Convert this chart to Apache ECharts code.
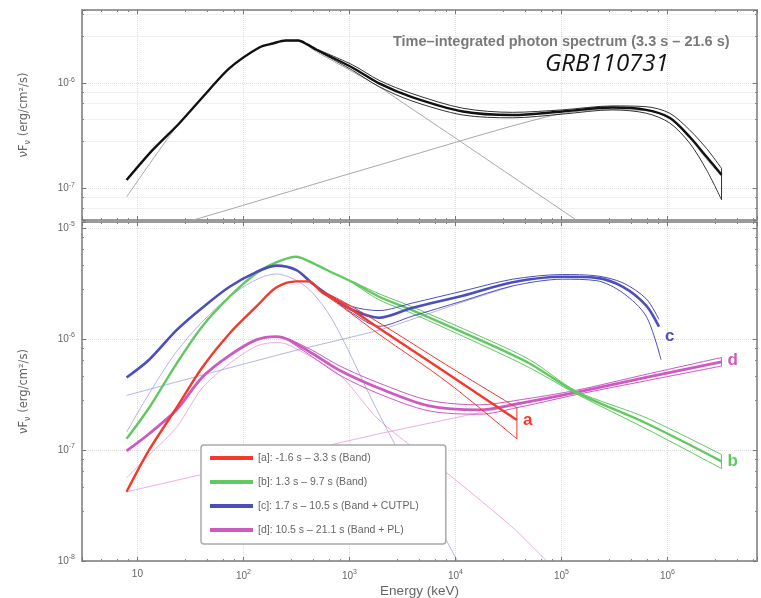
<!DOCTYPE html>
<html>
<head>
<meta charset="utf-8">
<script src="https://cdn.jsdelivr.net/npm/echarts@6/dist/echarts.min.js"></script>
<style>
html,body{margin:0;padding:0;background:#fff;}
#chart{width:761px;height:598px;}
</style>
</head>
<body>
<div id="chart"></div>
<script>
// ---------- DATA (energy keV, nuFnu erg/cm2/s) ----------
const blackCenter = [[7.9,1.2e-7],[13.8,2.3e-7],[25,4.2e-7],[44.7,8.1e-7],[74,1.4e-6],[141,2.2e-6],[190,2.4e-6],[250,2.56e-6],[330,2.56e-6],[400,2.35e-6],[490,2.09e-6],[1072,1.41e-6],[1905,1.0e-6],[3890,7.4e-7],[11750,5.4e-7],[34670,5.0e-7],[102300,5.4e-7],[302000,5.9e-7],[631000,5.6e-7],[1.05e6,4.7e-7],[1.62e6,3.1e-7],[2.34e6,2.0e-7],[3.24e6,1.35e-7]];
const blackUpper = [[490,2.12e-6],[1072,1.5e-6],[1905,1.07e-6],[3890,8.0e-7],[11750,5.8e-7],[34670,5.3e-7],[102300,5.6e-7],[302000,6.1e-7],[631000,6.0e-7],[1.05e6,5.2e-7],[1.62e6,3.6e-7],[2.34e6,2.4e-7],[3.24e6,1.55e-7]];
const blackLower = [[490,2.06e-6],[1072,1.33e-6],[1905,9.3e-7],[3890,6.8e-7],[11750,5.0e-7],[34670,4.7e-7],[102300,5.1e-7],[302000,5.6e-7],[631000,5.2e-7],[1.05e6,4.2e-7],[1.62e6,2.7e-7],[2.34e6,1.5e-7],[3.24e6,7.8e-8]];
const topBandComp = [[7.9,8.3e-8],[16,2.3e-7],[25,4.2e-7],[44.7,8.1e-7],[74,1.4e-6],[141,2.2e-6],[190,2.4e-6],[250,2.54e-6],[330,2.52e-6],[400,2.3e-6],[490,2.0e-6],[1072,1.29e-6],[1905,9.3e-7],[2950,6.9e-7],[11750,2.7e-7],[138000,5.0e-8],[355000,2.6e-8]];
const topCplComp = [[7.9,3.3e-8],[38.5,5.2e-8],[1905,1.67e-7],[72400,4.8e-7],[229000,5.6e-7],[631000,5.5e-7],[1.05e6,4.6e-7],[1.62e6,3.0e-7],[2.34e6,1.9e-7],[3.24e6,1.3e-7]];

const redCenter = [[7.9,4.2e-8],[12.9,1.0e-7],[23.4,2.4e-7],[40.7,5.5e-7],[74,1.12e-6],[132,1.95e-6],[204,2.9e-6],[316,3.3e-6],[417,3.3e-6],[550,2.63e-6],[851,2.09e-6],[1905,1.25e-6],[8318,4.9e-7],[38000,1.86e-7]];
const redUpper = [[550,2.7e-6],[851,2.2e-6],[1905,1.4e-6],[8318,5.8e-7],[38000,2.4e-7]];
const redLower = [[550,2.6e-6],[851,1.95e-6],[1905,1.1e-6],[8318,4.1e-7],[38000,1.26e-7]];

const greenCenter = [[7.9,1.26e-7],[12.9,2.4e-7],[23.4,6.0e-7],[40.7,1.29e-6],[74,2.4e-6],[132,3.9e-6],[204,4.9e-6],[316,5.5e-6],[417,5.0e-6],[603,4.2e-6],[1072,3.24e-6],[1905,2.4e-6],[3890,1.82e-6],[17000,9.8e-7],[50100,6.0e-7],[138000,3.3e-7],[631000,1.74e-7],[3.24e6,7.9e-8]];
const greenUpper = [[1072,3.3e-6],[1905,2.55e-6],[3890,1.95e-6],[17000,1.06e-6],[50100,6.5e-7],[138000,3.4e-7],[631000,1.95e-7],[3.24e6,9.1e-8]];
const greenLower = [[1072,3.2e-6],[1905,2.25e-6],[3890,1.7e-6],[17000,9.0e-7],[50100,5.5e-7],[138000,3.2e-7],[631000,1.55e-7],[3.24e6,6.8e-8]];

const blueCenter = [[7.9,4.5e-7],[12.9,6.5e-7],[23.4,1.2e-6],[40.7,1.9e-6],[74,2.95e-6],[132,4.0e-6],[204,4.57e-6],[316,4.17e-6],[447,3.16e-6],[692,2.34e-6],[1072,1.82e-6],[1905,1.55e-6],[3890,1.9e-6],[11750,2.45e-6],[34670,3.24e-6],[102300,3.63e-6],[213800,3.55e-6],[380000,2.95e-6],[631000,2.0e-6],[832000,1.29e-6]];
const blueUpper = [[692,2.4e-6],[1072,1.95e-6],[1905,1.8e-6],[3890,2.1e-6],[11750,2.7e-6],[34670,3.45e-6],[102300,3.8e-6],[213800,3.7e-6],[380000,3.2e-6],[631000,2.3e-6],[832000,1.5e-6]];
const blueLower = [[692,2.3e-6],[1072,1.7e-6],[1905,1.3e-6],[3890,1.6e-6],[11750,2.2e-6],[34670,3.0e-6],[102300,3.45e-6],[213800,3.35e-6],[380000,2.6e-6],[631000,1.6e-6],[870000,6.5e-7]];
const blueBandComp = [[7.9,1.45e-7],[23.4,7.7e-7],[74,2.4e-6],[204,3.85e-6],[389,2.95e-6],[692,1.48e-6],[1905,2.1e-7],[10470,1.0e-8],[16000,5e-9]];
const blueCplComp = [[7.9,3.1e-7],[269,7.6e-7],[1905,1.2e-6],[3890,1.5e-6],[11750,2.15e-6],[34670,3.0e-6]];

const magCenter = [[7.9,9.8e-8],[12.9,1.4e-7],[23.4,2.3e-7],[40.7,4.5e-7],[74,7.1e-7],[132,9.8e-7],[204,1.05e-6],[269,9.8e-7],[447,7.4e-7],[813,5.2e-7],[1905,3.6e-7],[5623,2.5e-7],[17000,2.3e-7],[38000,2.6e-7],[138000,3.3e-7],[631000,4.5e-7],[3.24e6,6.2e-7]];
const magUpper = [[269,1.0e-6],[447,7.9e-7],[813,5.7e-7],[1905,4.0e-7],[5623,2.8e-7],[17000,2.55e-7],[38000,2.8e-7],[138000,3.45e-7],[631000,4.8e-7],[3.24e6,6.8e-7]];
const magLower = [[269,9.6e-7],[447,6.9e-7],[813,4.7e-7],[1905,3.2e-7],[5623,2.25e-7],[17000,2.1e-7],[38000,2.4e-7],[138000,3.15e-7],[631000,4.2e-7],[3.24e6,5.7e-7]];
const magBandComp = [[7.9,5.6e-8],[12.9,9e-8],[23.4,1.6e-7],[40.7,3.6e-7],[74,6.0e-7],[132,8.6e-7],[204,9.3e-7],[269,8.8e-7],[813,4.7e-7],[1905,1.86e-7],[8318,6.2e-8],[34670,2.0e-8],[72400,1.0e-8],[120000,6e-9]];
const magPlComp = [[7.9,4.2e-8],[1905,1.4e-7],[3.24e6,6.2e-7]];

const legendLabels = ['[a]: -1.6 s – 3.3 s (Band)','[b]: 1.3 s – 9.7 s (Band)','[c]: 1.7 s – 10.5 s (Band + CUTPL)','[d]: 10.5 s – 21.1 s (Band + PL)'];
const curveLetters = ['a','b','c','d'];
const panelTitle = 'Time–integrated photon spectrum (3.3 s – 21.6 s)';
const grbName = 'GRB110731';
const yName = 'νF{sub|ν} (erg/cm²/s)';

// ---------- STYLE ----------
const COL = {red:'#f4382c', green:'#62c862', blue:'#4b4fb9', mag:'#cc5ac0'};
const X_MIN = 3, X_MAX = 7e6;

function decadeLabel(v){
  const l = Math.log10(v), e = Math.round(l);
  if (Math.abs(l - e) > 1e-6) return '';
  if (e === 1) return '{b|10}';
  return '{b|10}{s|' + e + '}';
}
const richLab = {b:{fontSize:10,color:'#666',fontFamily:'Liberation Sans'}, s:{fontSize:7,color:'#666',fontFamily:'Liberation Sans',padding:[0,0,7,0]}};

function xAx(grid, pos, labels){
  return {
    type:'log', gridIndex:grid, position:pos, min:X_MIN, max:X_MAX, splitNumber:7, logBase:10,
    axisLine:{show:true, onZero:false, lineStyle:{color:'#9a9a9a', width:2}},
    axisTick:{show:true, inside:true, length:4, lineStyle:{color:'#777'}},
    minorTick:{show:true, length:2, lineStyle:{color:'#888'}},
    axisLabel:{show:labels, formatter:decadeLabel, rich:richLab, margin:8},
    splitLine:{show:pos==='bottom', lineStyle:{color:'#dcdcdc', type:'dotted'}},
    name: (labels ? 'Energy (keV)' : ''), nameLocation:'middle', nameGap:23, nameMoveOverlap:false,
    nameTextStyle:{fontSize:13.5, color:'#666', fontFamily:'Liberation Sans', lineHeight:14, verticalAlign:'top'}
  };
}
function yAx(grid, pos, min, max, labels){
  return {
    type:'log', gridIndex:grid, position:pos, min:min, max:max, logBase:10,
    axisLine:{show:true, onZero:false, lineStyle:{color:'#9a9a9a', width:2}},
    axisTick:{show:true, inside:true, length:4, lineStyle:{color:'#777'}},
    minorTick:{show:true, length:2, lineStyle:{color:'#888'}},
    axisLabel:{show:labels, formatter:decadeLabel, rich:richLab, margin:7},
    splitLine:{show:pos==='left', lineStyle:{color:'#dcdcdc', type:'dotted'}},
    minorSplitLine:{show:(pos==='left' && grid===0), lineStyle:{color:'#f1f1f1'}},
    name: labels ? yName : '', nameLocation:'middle', nameGap:50, nameMoveOverlap:false,
    nameTextStyle:{fontSize:11.5, color:'#666', fontFamily:'DejaVu Sans', rich:{sub:{fontSize:8,color:'#666',fontFamily:'DejaVu Sans',padding:[7,0,0,0]}}}
  };
}

function line(name, data, xi, yi, color, width, extra){
  return Object.assign({
    type:'line', name:name, data:data, xAxisIndex:xi, yAxisIndex:yi,
    showSymbol:false, symbol:'none', smooth:0.3, silent:true,
    lineStyle:{color:color, width:width}, itemStyle:{color:color}, clip:true
  }, extra||{});
}
function closeEnd(up, lo){ return [up[up.length-1], lo[lo.length-1]]; }
function endLab(letter, color, off){
  return {endLabel:{show:true, formatter:letter, color:color, fontSize:17, fontWeight:'bold', fontFamily:'Liberation Sans', offset:off, distance:4}};
}

const series = [
  // top panel
  line('topBand', topBandComp, 0, 0, '#a8a8a8', 1),
  line('topCpl', topCplComp, 0, 0, '#a8a8a8', 1),
  line('blkU', blackUpper, 0, 0, '#333', 1),
  line('blkL', blackLower, 0, 0, '#333', 1),
  line('blkE', closeEnd(blackUpper, blackLower), 0, 0, '#333', 1, {smooth:false}),
  line('blk', blackCenter, 0, 0, '#111', 2.4),
  // lower panel components
  line('bBand', blueBandComp, 2, 2, 'rgba(120,120,210,0.55)', 1),
  line('bCpl', blueCplComp, 2, 2, 'rgba(120,120,210,0.55)', 1),
  line('mBand', magBandComp, 2, 2, 'rgba(220,110,200,0.55)', 1),
  line('mPl', magPlComp, 2, 2, 'rgba(220,110,200,0.55)', 1, {smooth:false}),
  // magenta
  line('mU', magUpper, 2, 2, COL.mag, 1),
  line('mL', magLower, 2, 2, COL.mag, 1),
  line('mE', closeEnd(magUpper, magLower), 2, 2, COL.mag, 1, {smooth:false}),
  line(legendLabels[3], magCenter, 2, 2, COL.mag, 2.8, endLab(curveLetters[3], COL.mag, [2,-2])),
  // green
  line('gU', greenUpper, 2, 2, COL.green, 1),
  line('gL', greenLower, 2, 2, COL.green, 1),
  line('gE', closeEnd(greenUpper, greenLower), 2, 2, COL.green, 1, {smooth:false}),
  line(legendLabels[1], greenCenter, 2, 2, COL.green, 2.4, endLab(curveLetters[1], COL.green, [2,0])),
  // blue
  line('bU', blueUpper, 2, 2, COL.blue, 1),
  line('bL', blueLower, 2, 2, COL.blue, 1),
  line(legendLabels[2], blueCenter, 2, 2, COL.blue, 2.6, endLab(curveLetters[2], COL.blue, [2,10])),
  // red
  line('rU', redUpper, 2, 2, COL.red, 1),
  line('rL', redLower, 2, 2, COL.red, 1),
  line('rE', closeEnd(redUpper, redLower), 2, 2, COL.red, 1, {smooth:false}),
  line(legendLabels[0], redCenter, 2, 2, COL.red, 2.4, endLab(curveLetters[0], COL.red, [2,0]))
];

const legendColors = [COL.red, COL.green, COL.blue, COL.mag];

const option = {
  animation:false,
  backgroundColor:'#fff',
  title:[
    {text:panelTitle, left:388, top:29, textStyle:{fontSize:14.5, fontWeight:'bold', color:'#7a7a7a', fontFamily:'Liberation Sans'}},
    {text:grbName, left:540, top:47, textStyle:{fontSize:24, fontWeight:'normal', fontStyle:'italic', color:'#111', fontFamily:'Open Sans'}}
  ],
  grid:[
    {left:82, right:4, top:10, height:210, containLabel:false, outerBoundsMode:'none'},
    {left:82, right:4, top:222, height:339, containLabel:false, outerBoundsMode:'none'}
  ],
  xAxis:[xAx(0,'bottom',false), xAx(0,'top',false), xAx(1,'bottom',true), xAx(1,'top',false)],
  yAxis:[yAx(0,'left',5e-8,5e-6,true), yAx(0,'right',5e-8,5e-6,false), yAx(1,'left',1e-8,1.13e-5,true), yAx(1,'right',1e-8,1.13e-5,false)],
  legend:{
    show:true, orient:'vertical', left:201, top:445, selectedMode:false,
    data: legendLabels.map((n,i)=>({name:n, icon:'rect', itemStyle:{color:legendColors[i]}})),
    itemWidth:43, itemHeight:4, itemGap:12,
    padding:[7,27,8,9],
    backgroundColor:'#fff', borderColor:'#aaa', borderWidth:1.5, borderRadius:3,
    textStyle:{fontSize:10.5, color:'#666', fontFamily:'Liberation Sans', lineHeight:12}
  },
  series: series
};
const chart = echarts.init(document.getElementById('chart'), null, {renderer:'canvas'});
chart.setOption(option);
</script>
</body>
</html>
